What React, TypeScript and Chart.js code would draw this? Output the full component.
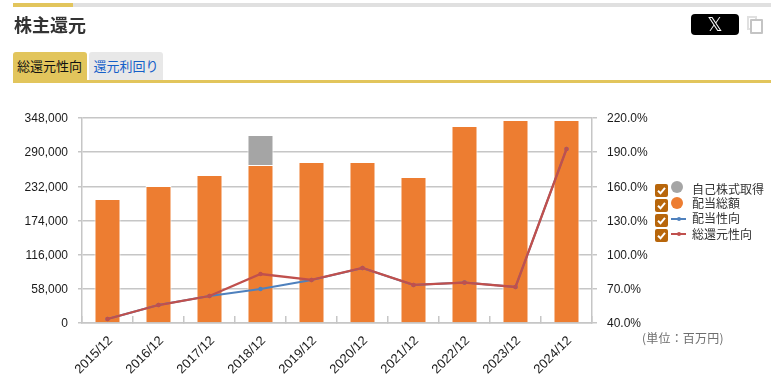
import React, { useEffect, useRef } from "react";
import { Chart, registerables } from "chart.js";

Chart.register(...registerables);

const categories = ["2015/12","2016/12","2017/12","2018/12","2019/12","2020/12","2021/12","2022/12","2023/12","2024/12"];
const dividends = [210500,232600,251200,268200,273300,273300,247800,334400,344700,344700];
const buybacks = [0,0,0,50900,0,0,0,0,0,0];
const payoutRatio = [43.5,55.8,63.7,69.9,77.8,88.3,73.4,75.5,71.6,192.8];
const totalReturnRatio = [43.5,55.8,63.7,83,77.8,88.3,73.4,75.5,71.6,192.8];
const leftTicks = [0,58000,116000,174000,232000,290000,348000];
const rightTicks = [40,70,100,130,160,190,220];

const FONT = '"Liberation Sans","Noto Sans CJK JP",sans-serif';
const CJK = '"Noto Sans CJK JP","Noto Sans",sans-serif';
const GRID = "#c6c6c6";
const GOLD = "#e2c55c";

const legendItems = [
  { label: "自己株式取得", color: "#a5a5a5", kind: "dot" },
  { label: "配当総額", color: "#ed7d31", kind: "dot" },
  { label: "配当性向", color: "#4f81bd", kind: "line" },
  { label: "総還元性向", color: "#c0504d", kind: "line" },
];

export default function App() {
  const ref = useRef<HTMLCanvasElement>(null);
  useEffect(() => {
    document.body.style.margin = "0";
    document.body.style.overflow = "hidden";
    const chart = new Chart(ref.current!, {
      type: "bar",
      data: {
        labels: categories,
        datasets: [
          { type: "line", label: "総還元性向", data: totalReturnRatio, yAxisID: "y1", borderColor: "#c0504d", backgroundColor: "#c0504d", borderWidth: 2.3, pointRadius: 2.2, pointBorderWidth: 0, tension: 0, order: 1 },
          { type: "line", label: "配当性向", data: payoutRatio, yAxisID: "y1", borderColor: "#4f81bd", backgroundColor: "#4f81bd", borderWidth: 2, pointRadius: 2.2, pointBorderWidth: 0, tension: 0, order: 2 },
          { label: "配当総額", data: dividends, yAxisID: "y", stack: "s", backgroundColor: "#ed7d31", borderColor: "#ffffff", borderWidth: 1, barPercentage: 0.51, categoryPercentage: 1, order: 3 },
          { label: "自己株式取得", data: buybacks, yAxisID: "y", stack: "s", backgroundColor: "#a5a5a5", borderColor: "#ffffff", borderWidth: 1, barPercentage: 0.51, categoryPercentage: 1, order: 4 },
        ] as any,
      },
      options: {
        animation: false,
        responsive: false,
        layout: { padding: { top: 118, left: 0, right: 0, bottom: 0 } },
        plugins: { legend: { display: false }, tooltip: { enabled: false } },
        scales: {
          x: {
            stacked: true,
            grid: { drawOnChartArea: false, color: GRID, lineWidth: 1.5, tickLength: -7, offset: true },
            border: { color: GRID, width: 1.5 },
            ticks: { color: "#1a1a1a", font: { family: FONT, size: 13 }, maxRotation: 45, minRotation: 45, padding: 17, labelOffset: 3, autoSkip: false },
            afterFit: (s: any) => { s.height = 69; },
          },
          y: {
            position: "left",
            stacked: true,
            min: 0,
            max: 348000,
            grid: { color: GRID, lineWidth: 1.5, tickLength: 4 },
            border: { color: GRID, width: 1.5 },
            ticks: { stepSize: 58000, color: "#1a1a1a", font: { family: FONT, size: 12 }, padding: 10, labelOffset: 1, callback: (v: any) => Number(v).toLocaleString("en-US") },
            afterBuildTicks: (s: any) => { s.ticks = leftTicks.map((value) => ({ value })); },
            afterFit: (s: any) => { s.width = 82; },
          },
          y1: {
            position: "right",
            min: 40,
            max: 220,
            grid: { drawOnChartArea: false, color: GRID, lineWidth: 1.5, tickLength: 5 },
            border: { color: GRID, width: 1.5 },
            ticks: { stepSize: 30, color: "#1a1a1a", font: { family: FONT, size: 12 }, padding: 10, labelOffset: 1, callback: (v: any) => Number(v).toFixed(1) + "%" },
            afterBuildTicks: (s: any) => { s.ticks = rightTicks.map((value) => ({ value })); },
            afterFit: (s: any) => { s.width = 188; },
          },
        },
      },
    });
    return () => chart.destroy();
  }, []);

  return (
    <div style={{ position: "absolute", left: 0, top: 0, width: 780, height: 392, background: "#fff", overflow: "hidden", fontFamily: CJK }}>
      <canvas ref={ref} width={780} height={392} style={{ position: "absolute", left: 0, top: 0, width: 780, height: 392 }} />
      <div style={{ position: "absolute", left: 13, top: 3, width: 758, height: 4, background: "#e0e0e0" }} />
      <div style={{ position: "absolute", left: 13, top: 3, width: 60, height: 4, background: GOLD }} />
      <div style={{ position: "absolute", left: 14, top: 11, fontSize: 18, fontWeight: 700, color: "#333", lineHeight: "26px" }}>株主還元</div>
      <div style={{ position: "absolute", left: 691, top: 14, width: 48, height: 21, background: "#000", borderRadius: 4, color: "#fff", fontSize: 19, lineHeight: "21px", textAlign: "center", fontFamily: "DejaVu Sans" }}>𝕏</div>
      <div style={{ position: "absolute", left: 747, top: 16, width: 10, height: 14, border: "2px solid #e0e0e0", boxSizing: "border-box" }} />
      <div style={{ position: "absolute", left: 750, top: 19, width: 13, height: 15, border: "2px solid #c4c4c4", background: "#fff", boxSizing: "border-box", borderRadius: 1 }} />
      <div style={{ position: "absolute", left: 13, top: 52, width: 74, height: 29, background: GOLD, borderRadius: "3px 3px 0 0", fontSize: 13, lineHeight: "28px", textAlign: "center", color: "#111", textIndent: -1 }}>総還元性向</div>
      <div style={{ position: "absolute", left: 89, top: 52, width: 74, height: 28, background: "#e8e8e8", borderRadius: "3px 3px 0 0", fontSize: 13, lineHeight: "28px", textAlign: "center", color: "#1560c8" }}>還元利回り</div>
      <div style={{ position: "absolute", left: 13, top: 80, width: 758, height: 3, background: GOLD }} />
      {legendItems.map((it, i) => (
        <div key={it.label} style={{ position: "absolute", left: 655, top: 184 + i * 15, height: 15, width: 120, fontSize: 12, lineHeight: "14px", color: "#333", whiteSpace: "nowrap" }}>
          <span style={{ position: "absolute", left: 0, top: 0, width: 13, height: 13, background: "#b8660b", borderRadius: 2 }}>
            <svg width="13" height="13" viewBox="0 0 13 13" style={{ display: "block" }}><path d="M3 6.8 L5.5 9.3 L10 3.8" fill="none" stroke="#fff" strokeWidth="2" /></svg>
          </span>
          {it.kind === "dot"
            ? <span style={{ position: "absolute", left: 16, top: -3 + i, width: 12, height: 12, borderRadius: "50%", background: it.color }} />
            : <><span style={{ position: "absolute", left: 16, top: 4, width: 15, height: 2, background: it.color }} /><span style={{ position: "absolute", left: 21.5, top: 3, width: 4, height: 4, borderRadius: "50%", background: it.color }} /></>}
          <span style={{ position: "absolute", left: 37, top: i === 0 || i === 3 ? -2.5 : -3 }}>{it.label}</span>
        </div>
      ))}
      <div style={{ position: "absolute", left: 642, top: 330, fontSize: 12, lineHeight: "16px", color: "#6e6e6e", letterSpacing: 0.2 }}>(単位：百万円)</div>
    </div>
  );
}
